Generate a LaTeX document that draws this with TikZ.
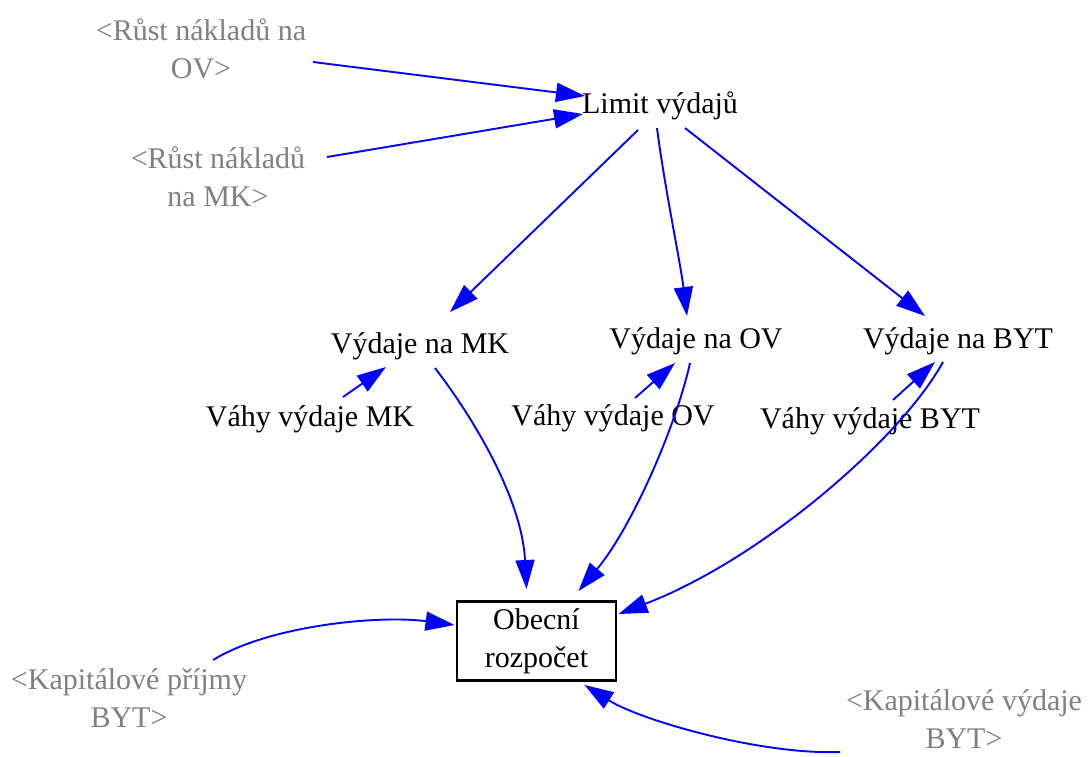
\documentclass[tikz,border=0pt]{standalone}
\usepackage{fontspec}
\setmainfont{Liberation Serif}
\usetikzlibrary{arrows.meta}
\definecolor{ghost}{HTML}{808080}
\definecolor{linkblue}{HTML}{0000FF}
\tikzset{
  var/.style={font=\fontsize{30}{38}\selectfont, align=center, inner sep=3pt, text=black},
  shadow/.style={var, text=ghost},
  link/.style={draw=linkblue, line width=1.9pt, -{Triangle[length=29pt,width=19pt]}},
  stockbox/.style={draw=black, line width=1.5pt, minimum width=159pt, minimum height=80pt, inner sep=2pt, font=\fontsize{30}{38}\selectfont, align=center}
}
\begin{document}
\begin{tikzpicture}[x=1pt,y=1pt]
\useasboundingbox (0,0) rectangle (1088,-756);
\fill[white] (0,0) rectangle (1088,-756);
% nodes
\node[shadow] (rov) at (201,-49) {<Růst nákladů na\\OV>};
\node[shadow] (rmk) at (218,-177) {<Růst nákladů\\na MK>};
\node[var] (lim) at (660,-106) {Limit výdajů};
\node[var] (vmk) at (420,-346) {Výdaje na MK};
\node[var] (vov) at (696,-341) {Výdaje na OV};
\node[var] (vbyt) at (958,-341) {Výdaje na BYT};
\node[var] (wmk) at (310,-419) {Váhy výdaje MK};
\node[var] (wov) at (613,-418) {Váhy výdaje OV};
\node[var] (wbyt) at (870,-421) {Váhy výdaje BYT};
\node[stockbox] (ob) at (536.5,-641) {Obecní\\rozpočet};
\draw[line width=1pt] ([yshift=-2.5pt]ob.north west) -- ([yshift=-2.5pt]ob.north east);
\draw[line width=1pt] ([yshift=2.5pt]ob.south west) -- ([yshift=2.5pt]ob.south east);
\node[shadow] (kp) at (129,-698) {<Kapitálové příjmy\\BYT>};
\node[shadow, inner sep=0pt] (kv) at (964,-719) {<Kapitálové výdaje\\BYT>};
% connectors
\draw[link] ([shift={(112,-13)}]rov.center) -- ([shift={(-75,10)}]lim.center);
\draw[link] ([shift={(109,20)}]rmk.center) -- ([shift={(-77,-8)}]lim.center);
\draw[link] ([shift={(-22,-24)}]lim.center) -- ([shift={(30,34)}]vmk.center);
\draw[link] ([shift={(-3,-22)}]lim.center) .. controls (665,-190) and (680,-260) .. ([shift={(-9,25)}]vov.center);
\draw[link] ([shift={(25,-22)}]lim.center) -- ([shift={(-33,25)}]vbyt.center);
\draw[link] ([shift={(33,22)}]wmk.center) -- ([shift={(-34,-21)}]vmk.center);
\draw[link] ([shift={(22,20)}]wov.center) -- ([shift={(-21,-22)}]vov.center);
\draw[link] ([shift={(23,21)}]wbyt.center) -- ([shift={(-23,-21)}]vbyt.center);
\draw[link] ([shift={(15,-22)}]vmk.center) .. controls (475,-420) and (522,-500) .. ([shift={(-10,52)}]ob.center);
\draw[link] ([shift={(-6,-22)}]vov.center) .. controls (675,-430) and (630,-530) .. ([shift={(42,50)}]ob.center);
\draw[link] ([shift={(-15,-21)}]vbyt.center) .. controls (900,-440) and (760,-560) .. ([shift={(82,27)}]ob.center);
\draw[link] ([shift={(84,38)}]kp.center) .. controls (270,-625) and (380,-615) .. ([shift={(-82,16)}]ob.center);
\draw[link] ([shift={(-124,-33)}]kv.center) .. controls (760,-755) and (640,-720) .. ([shift={(48,-44)}]ob.center);
\end{tikzpicture}
\end{document}
